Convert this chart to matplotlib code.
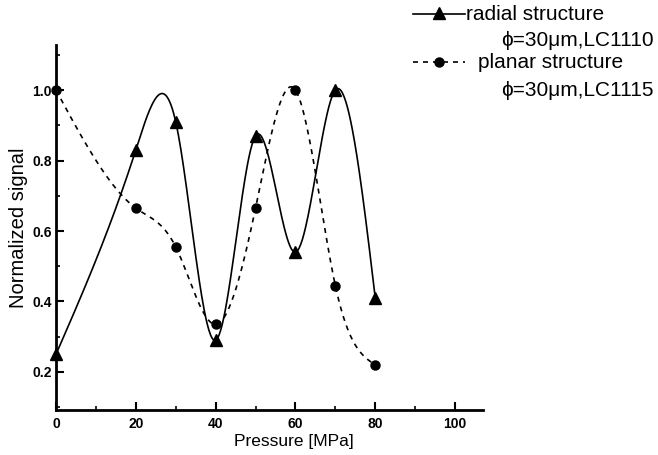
import numpy as np
import matplotlib
matplotlib.use('Agg')
import matplotlib.pyplot as plt
from matplotlib.lines import Line2D
from matplotlib.ticker import MultipleLocator

pressure = [0, 20, 30, 40, 50, 60, 70, 80]
radial = [0.25, 0.83, 0.91, 0.29, 0.87, 0.54, 1.0, 0.41]
planar = [1.0, 0.665, 0.555, 0.335, 0.665, 1.0, 0.445, 0.22]


def natural_spline(x, y, n=400):
    # plain natural cubic spline, used only to draw the smooth connecting line
    x = np.asarray(x, float)
    y = np.asarray(y, float)
    k = len(x)
    h = np.diff(x)
    A = np.zeros((k, k))
    b = np.zeros(k)
    A[0, 0] = A[-1, -1] = 1
    for i in range(1, k - 1):
        A[i, i - 1] = h[i - 1]
        A[i, i] = 2 * (h[i - 1] + h[i])
        A[i, i + 1] = h[i]
        b[i] = 6 * ((y[i + 1] - y[i]) / h[i] - (y[i] - y[i - 1]) / h[i - 1])
    M = np.linalg.solve(A, b)
    xs = np.linspace(x[0], x[-1], n)
    idx = np.clip(np.searchsorted(x, xs) - 1, 0, k - 2)
    x0, x1 = x[idx], x[idx + 1]
    hh = x1 - x0
    t0 = x1 - xs
    t1 = xs - x0
    ys = (M[idx] * t0 ** 3 + M[idx + 1] * t1 ** 3) / (6 * hh) \
        + (y[idx] / hh - M[idx] * hh / 6) * t0 \
        + (y[idx + 1] / hh - M[idx + 1] * hh / 6) * t1
    return xs, ys


plt.rcParams['font.family'] = ['Liberation Sans', 'DejaVu Sans']

fig = plt.figure(figsize=(6.58, 4.55), dpi=100)
W, H = 658, 455
ax = fig.add_axes([56 / W, 1 - 410 / H, (483 - 56) / W, (410 - 45) / H])

xs, ys = natural_spline(pressure, radial)
ax.plot(xs, ys, color='black', lw=1.2, clip_on=False)
ax.plot(pressure, radial, '^', color='black', ms=8, clip_on=False)

xs, ys = natural_spline(pressure, planar)
ax.plot(xs, ys, color='black', lw=1.2, ls=(0, (3, 3)), clip_on=False)
ax.plot(pressure, planar, 'o', color='black', ms=6.5, clip_on=False)

ax.set_xlim(0, 107)
ax.set_ylim(0.092, 1.128)
ax.xaxis.set_minor_locator(MultipleLocator(10))
ax.yaxis.set_minor_locator(MultipleLocator(0.1))
ax.set_xticks([0, 20, 40, 60, 80, 100])
ax.set_yticks([0.2, 0.4, 0.6, 0.8, 1.0])
ax.set_yticklabels(['0.2', '0.4', '0.6', '0.8', '1.0'])

for s in ['top', 'right']:
    ax.spines[s].set_visible(False)
for s in ['left', 'bottom']:
    ax.spines[s].set_linewidth(2)

ax.tick_params(which='major', direction='in', length=6, width=1.5, labelsize=10)
ax.tick_params(axis='x', which='major', pad=5)
ax.tick_params(axis='y', which='major', pad=3)
ax.tick_params(which='minor', direction='in', length=3, width=1.2)
for lab in ax.get_xticklabels() + ax.get_yticklabels():
    lab.set_fontweight('bold')

ax.set_xlabel('Pressure [MPa]', fontsize=12.5)
ax.set_ylabel('Normalized signal', fontsize=14.5)
ax.xaxis.set_label_coords(59.5 / 107, -0.066)
ax.yaxis.set_label_coords(-0.087, 0.5)
ax.yaxis.label.set_va('center')

# legend drawn by hand to keep the layout of the original
fig.add_artist(Line2D([413 / W, 465 / W], [1 - 14 / H, 1 - 14 / H], color='black', lw=1.2,
                      transform=fig.transFigure))
fig.add_artist(Line2D([439 / W], [1 - 13 / H], marker='^', color='black', ms=8,
                      transform=fig.transFigure))
fig.text(466 / W, 1 - 14 / H, 'radial structure', fontsize=15, va='center', ha='left')
fig.text(654 / W, 1 - 40 / H, '\u03d5=30\u03bcm,LC1110', fontsize=15, va='center', ha='right')

fig.add_artist(Line2D([413 / W, 465 / W], [1 - 62 / H, 1 - 62 / H], color='black', lw=1.2,
                      ls=(0, (3, 3)), transform=fig.transFigure))
fig.add_artist(Line2D([439 / W], [1 - 62 / H], marker='o', color='black', ms=6.5,
                      transform=fig.transFigure))
fig.text(478 / W, 1 - 62 / H, 'planar structure', fontsize=15, va='center', ha='left')
fig.text(654 / W, 1 - 90 / H, '\u03d5=30\u03bcm,LC1115', fontsize=15, va='center', ha='right')

fig.savefig('out.png', dpi=100)
